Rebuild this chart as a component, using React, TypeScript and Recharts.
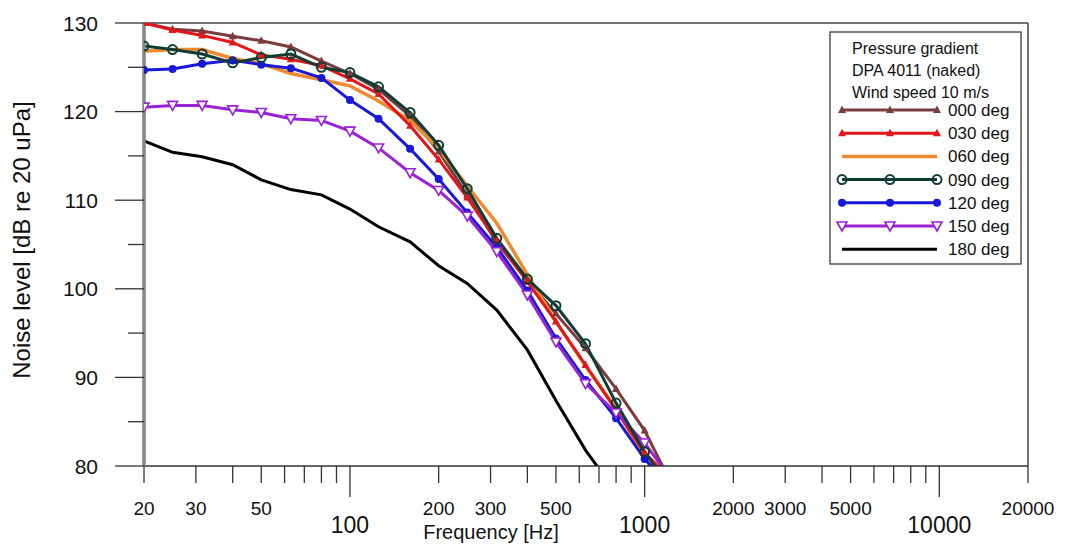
import React from 'react';
import { LineChart, Line, XAxis, YAxis, ReferenceLine } from 'recharts';

// 1/3-octave band centre frequencies [Hz]
const freqs = [20, 25, 31.5, 40, 50, 63, 80, 100, 125, 160, 200, 250, 315, 400, 500, 630, 800, 1000, 1250];

// noise level [dB re 20 uPa] per wind angle
const deg000 = [130.0, 129.3, 129.1, 128.5, 128.0, 127.3, 125.7, 124.3, 122.5, 119.5, 115.5, 110.6, 105.2, 101.0, 97.2, 93.3, 88.7, 84.0, 77.6];
const deg030 = [130.0, 129.2, 128.6, 127.8, 126.4, 125.9, 125.2, 123.7, 122.0, 118.4, 114.6, 110.3, 105.4, 100.8, 96.3, 91.4, 86.3, 81.5, 78.3];
const deg060 = [126.8, 127.0, 127.0, 126.0, 125.4, 124.3, 123.6, 122.9, 121.2, 119.0, 115.8, 111.6, 107.4, 101.6, 96.3, 91.3, 86.5, 81.0, 76.0];
const deg090 = [127.4, 127.0, 126.5, 125.5, 126.1, 126.5, 125.0, 124.4, 122.8, 119.9, 116.2, 111.3, 105.7, 101.1, 98.1, 93.8, 87.1, 81.6, 77.1];
const deg120 = [124.7, 124.8, 125.4, 125.8, 125.3, 124.9, 123.8, 121.3, 119.2, 115.8, 112.4, 108.6, 104.7, 99.8, 94.4, 89.7, 85.4, 80.8, 77.3];
const deg150 = [120.5, 120.7, 120.7, 120.2, 119.9, 119.2, 119.0, 117.8, 115.9, 113.1, 111.1, 108.2, 104.2, 99.3, 94.0, 89.3, 86.0, 82.6, 78.2];
const deg180 = [116.7, 115.4, 114.9, 114.0, 112.3, 111.2, 110.6, 109.0, 107.0, 105.3, 102.6, 100.6, 97.6, 93.1, 87.4, 81.8, 77.0, null, null];

const xTicks = [20, 30, 40, 50, 60, 70, 80, 90, 100, 200, 300, 400, 500, 600, 700, 800, 900, 1000,
  2000, 3000, 4000, 5000, 6000, 7000, 8000, 9000, 10000, 20000];
const xMajor = [100, 1000, 10000];
const xMinorLabels = [20, 30, 50, 200, 300, 500, 2000, 3000, 5000, 20000];
const yTicks = [80, 85, 90, 95, 100, 105, 110, 115, 120, 125, 130];
const yLabels = [80, 90, 100, 110, 120, 130];

const legendTitle = ['Pressure gradient', 'DPA 4011 (naked)', 'Wind speed 10 m/s'];

type MarkerKind = 'none' | 'tri' | 'circle' | 'dot' | 'triDown';

const series: { key: string; name: string; values: (number | null)[]; color: string; marker: MarkerKind; width: number }[] = [
  { key: 'd000', name: '000 deg', values: deg000, color: '#7a3c3c', marker: 'tri', width: 3 },
  { key: 'd030', name: '030 deg', values: deg030, color: '#e3161c', marker: 'tri', width: 3 },
  { key: 'd060', name: '060 deg', values: deg060, color: '#f08a2e', marker: 'none', width: 3.5 },
  { key: 'd090', name: '090 deg', values: deg090, color: '#0f3d33', marker: 'circle', width: 3 },
  { key: 'd120', name: '120 deg', values: deg120, color: '#1818d8', marker: 'dot', width: 3 },
  { key: 'd150', name: '150 deg', values: deg150, color: '#9a22d4', marker: 'triDown', width: 3 },
  { key: 'd180', name: '180 deg', values: deg180, color: '#000000', marker: 'none', width: 3 },
];

const drawOrder = ['d180', 'd000', 'd060', 'd030', 'd120', 'd150', 'd090'];

const data = freqs.map((f, i) => {
  const row: Record<string, number | null> = { f };
  series.forEach((s) => {
    row[s.key] = s.values[i];
  });
  return row;
});

const FONT = '"Liberation Sans", Arial, Helvetica, sans-serif';

const Marker = ({ kind, cx, cy, color }: { kind: MarkerKind; cx: number; cy: number; color: string }) => {
  if (kind === 'tri') {
    return <polygon points={`${cx},${cy - 4.5} ${cx + 4},${cy + 3} ${cx - 4},${cy + 3}`} fill={color} />;
  }
  if (kind === 'circle') {
    return <circle cx={cx} cy={cy} r={4.5} fill="none" stroke={color} strokeWidth={2} />;
  }
  if (kind === 'dot') {
    return <circle cx={cx} cy={cy} r={4} fill={color} />;
  }
  if (kind === 'triDown') {
    return (
      <polygon
        points={`${cx - 5},${cy - 4} ${cx + 5},${cy - 4} ${cx},${cy + 5}`}
        fill="#fff"
        stroke={color}
        strokeWidth={1.6}
      />
    );
  }
  return null;
};

const XTick = (props: any) => {
  const { x, y, payload } = props;
  const v = payload.value;
  const major = xMajor.includes(v);
  const labeled = major || xMinorLabels.includes(v);
  return (
    <g>
      <line x1={x} x2={x} y1={y} y2={y + (major ? 31 : 17)} stroke="#333" strokeWidth={1.3} />
      {labeled && (
        <text
          x={x}
          y={y + (major ? 67 : 49)}
          textAnchor="middle"
          fontSize={major ? 23 : 19}
          fontFamily={FONT}
          fill="#111"
        >
          {v}
        </text>
      )}
    </g>
  );
};

const YTick = (props: any) => {
  const { x, y, payload } = props;
  const v = payload.value;
  const major = yLabels.includes(v);
  return (
    <g>
      <line x1={x - (major ? 29 : 16)} x2={x} y1={y} y2={y} stroke="#333" strokeWidth={1.3} />
      {major && (
        <text x={x - 46} y={y + 7.5} textAnchor="end" fontSize={21} fontFamily={FONT} fill="#111">
          {v}
        </text>
      )}
    </g>
  );
};

const Legend = () => (
  <svg
    width={193}
    height={234}
    style={{ position: 'absolute', left: 821, top: 23 }}
  >
    <rect x={1} y={1} width={191} height={232} fill="#fff" stroke="#555" strokeWidth={1.5} />
    {legendTitle.map((t, i) => (
      <text key={t} x={23} y={23 + i * 22} fontSize={16} fontFamily={FONT} fill="#111">
        {t}
      </text>
    ))}
    {series.map((s, i) => {
      const cy = 79 + i * 23.2;
      return (
        <g key={s.key}>
          <line x1={13} x2={108} y1={cy} y2={cy} stroke={s.color} strokeWidth={s.width} />
          {[13, 61, 108].map((cx) => (
            <Marker key={cx} kind={s.marker} cx={cx} cy={cy} color={s.color} />
          ))}
          <text x={119} y={cy + 6} fontSize={17} fontFamily={FONT} fill="#111">
            {s.name}
          </text>
        </g>
      );
    })}
  </svg>
);

export default function App() {
  return (
    <div style={{ position: 'relative', width: 1049, height: 535, fontFamily: FONT }}>
      <LineChart width={1049} height={535} data={data} margin={{ top: 15, right: 29, bottom: 0, left: 0 }}>
        <XAxis
          dataKey="f"
          type="number"
          scale="log"
          domain={[20, 20000]}
          allowDataOverflow
          ticks={xTicks}
          interval={0}
          tick={<XTick />}
          tickLine={false}
          tickSize={0}
          tickMargin={0}
          height={77}
          axisLine={{ stroke: '#333', strokeWidth: 1.5 }}
        />
        <YAxis
          type="number"
          domain={[80, 130]}
          allowDataOverflow
          ticks={yTicks}
          interval={0}
          tick={<YTick />}
          tickLine={false}
          tickSize={0}
          tickMargin={0}
          width={136}
          axisLine={{ stroke: '#858585', strokeWidth: 3.5 }}
        />
        <ReferenceLine y={130} stroke="#444" strokeWidth={1.5} />
        <ReferenceLine x={20000} stroke="#444" strokeWidth={1.5} />
        {drawOrder.map((k) => {
          const s = series.find((q) => q.key === k)!;
          return (
            <Line
              key={s.key}
              dataKey={s.key}
              type="linear"
              stroke={s.color}
              strokeWidth={s.width}
              isAnimationActive={false}
              connectNulls={false}
              dot={
                s.marker === 'none'
                  ? false
                  : (p: any) =>
                      p.cx == null || p.cy == null || p.value == null ? (
                        <g key={`${s.key}-${p.index}`} />
                      ) : (
                        <g key={`${s.key}-${p.index}`}>
                          <Marker kind={s.marker} cx={p.cx} cy={p.cy} color={s.color} />
                        </g>
                      )
              }
              activeDot={false}
            />
          );
        })}
      </LineChart>
      <div
        style={{
          position: 'absolute',
          left: 14,
          top: 232,
          transform: 'translate(-50%, -50%) rotate(-90deg)',
          whiteSpace: 'nowrap',
          fontSize: 24,
          color: '#111',
        }}
      >
        Noise level [dB re 20 uPa]
      </div>
      <div
        style={{
          position: 'absolute',
          left: 483,
          top: 524,
          transform: 'translate(-50%, -50%)',
          whiteSpace: 'nowrap',
          fontSize: 20,
          color: '#111',
          lineHeight: 1,
        }}
      >
        Frequency [Hz]
      </div>
      <Legend />
    </div>
  );
}
